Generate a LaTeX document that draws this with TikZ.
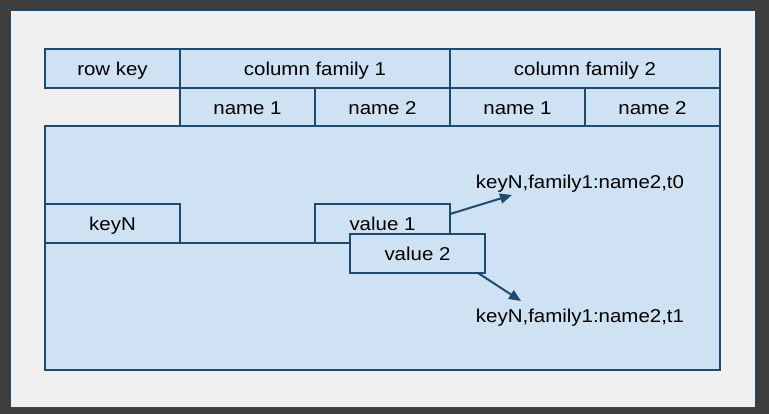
\documentclass[tikz,border=0pt]{standalone}
\usepackage{fontspec}
\setmainfont{Liberation Sans}[FakeStretch=1.1]
\usetikzlibrary{arrows.meta}
\definecolor{outerc}{HTML}{3D3D3D}
\definecolor{panelc}{HTML}{EFEFEF}
\definecolor{cellfill}{HTML}{CFE2F3}
\definecolor{cellline}{HTML}{1E4A70}
\tikzset{
  cell/.style={draw=cellline, fill=cellfill, line width=2pt, inner sep=0pt, outer sep=0pt,
    minimum height=39pt, text height=17pt, text depth=2pt,
    font=\fontsize{18.6}{20}\selectfont, text=black},
  lbl/.style={inner sep=0pt, anchor=base, font=\fontsize{18.6}{20}\selectfont, text=black},
  arr/.style={draw=cellline, line width=2pt, -{Triangle[length=12pt,width=10pt]}}
}
\begin{document}
\begin{tikzpicture}[x=1pt,y=-1pt]
\useasboundingbox (0,0) rectangle (769,414);
\fill[outerc] (0,0) rectangle (769,414);
\draw[fill=panelc, draw=cellline, line width=1pt] (10,11) rectangle (755,407);
% header
\node[cell, minimum width=135pt] (rowkey) at (112.5,68.5) {row key};
\node[cell, minimum width=270pt] (cf1) at (315,68.5) {column family 1};
\node[cell, minimum width=270pt] (cf2) at (585,68.5) {column family 2};
\node[cell, minimum width=135pt, minimum height=38pt] (n11) at (247.5,107) {name 1};
\node[cell, minimum width=135pt, minimum height=38pt] (n12) at (382.5,107) {name 2};
\node[cell, minimum width=135pt, minimum height=38pt] (n21) at (517.5,107) {name 1};
\node[cell, minimum width=135pt, minimum height=38pt] (n22) at (652.5,107) {name 2};
% body
\node[cell, minimum width=675pt, minimum height=244pt] (body) at (382.5,248) {};
\node[cell, minimum width=135pt] (keyN) at (112.5,223.5) {keyN};
\node[cell, minimum width=135pt] (v1) at (382.5,223.5) {value 1};
\node[cell, minimum width=135pt] (v2) at (417.5,253.5) {value 2};
\draw[draw=cellline, line width=2pt] (keyN.south east) -- (v1.south west);
% labels
\node[lbl] (t0) at (580,189) {keyN,family1:name2,t0};
\node[lbl] (t1) at (580,323) {keyN,family1:name2,t1};
\coordinate (t0tip) at (512,195);
\coordinate (t1tip) at (521,301);
\draw[arr] ([yshift=-10pt]v1.north east) -- (t0tip);
\draw[arr] ([xshift=-7pt]v2.south east) -- (t1tip);
\end{tikzpicture}
\end{document}
